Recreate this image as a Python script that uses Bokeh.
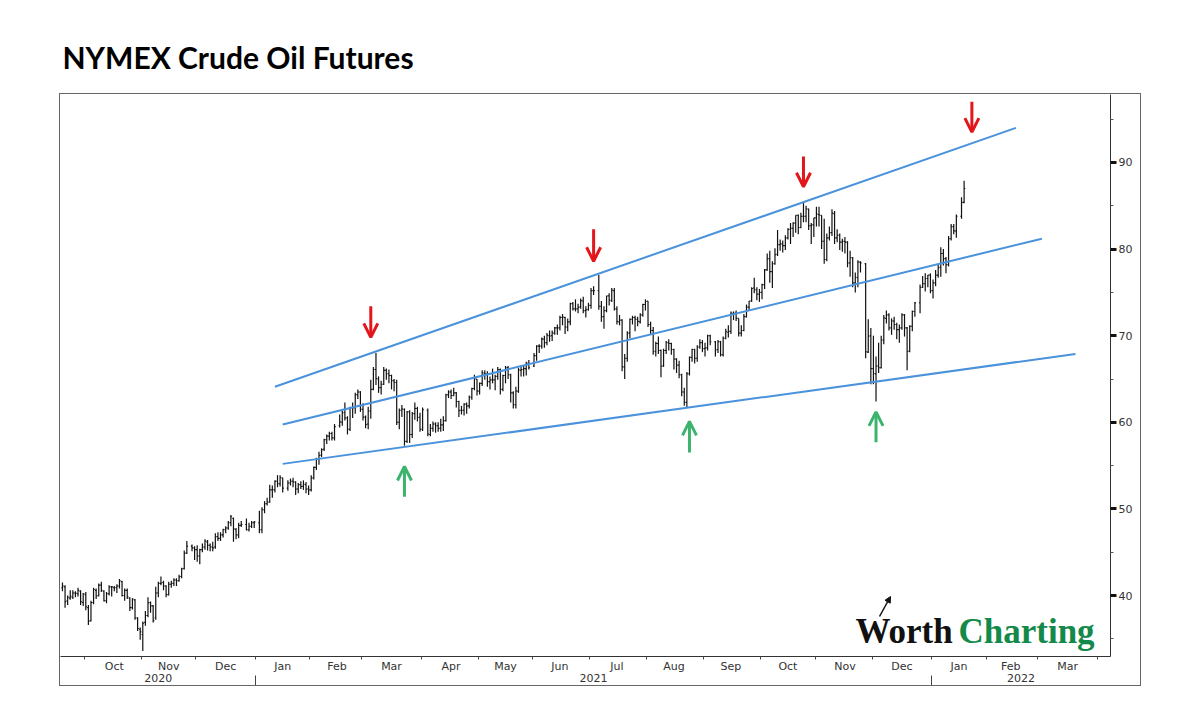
import numpy as np
import pandas as pd
from bokeh.plotting import figure
from bokeh.layouts import column, row
from bokeh.models import (Range1d, LinearAxis, FixedTicker, Arrow, Spacer,
                          OpenHead, NormalHead, Label, ColumnDataSource)
from bokeh.embed import file_html
from bokeh.resources import INLINE

# ---------------- data ----------------
START = "2020-09-18"
END = "2022-01-19"
holidays = ["2020-11-26", "2020-12-25", "2021-01-01", "2021-01-18", "2021-02-15",
            "2021-04-02", "2021-05-31", "2021-07-05", "2021-09-06", "2021-11-25",
            "2021-12-24", "2022-01-17"]

opens = [
    40.9, 41.0, 39.4, 39.7, 39.8, 40.3, 40.2, 40.5, 39.2,
    40.1, 38.6, 37.1, 39.2, 40.6, 40.0, 41.2, 40.5, 39.4, 40.2, 41.0, 40.9, 40.9, 41.1, 41.6, 40.0, 40.6, 39.7, 38.6, 39.5, 37.4, 36.1,
    35.5, 36.9, 37.7, 39.2, 38.8, 37.4, 40.3, 41.4, 41.5, 41.1, 40.1, 41.3, 41.4, 41.8, 41.7, 42.2, 43.1, 44.9, 45.7, 45.5,
    45.3, 44.6, 45.3, 45.6, 46.2, 45.8, 45.6, 45.6, 46.8, 46.6, 47.0, 47.6, 47.8, 48.4, 48.9, 47.6, 47.0, 48.1, 48.2, 47.6, 48.0, 48.4,
    48.4, 47.6, 49.9, 50.6, 50.8, 52.2, 52.2, 53.2, 52.9, 53.6, 52.4, 53.0, 53.2, 53.1, 52.3, 52.8, 52.6, 52.8, 52.3,
    52.2, 53.6, 54.8, 55.7, 56.2, 56.9, 58.0, 58.4, 58.7, 58.2, 59.6, 60.0, 61.1, 60.5, 59.2, 61.7, 61.7, 63.2, 63.5,
    61.5, 60.6, 59.8, 61.3, 63.8, 66.1, 65.0, 64.0, 64.4, 66.0, 65.6, 65.4, 64.8, 64.6, 60.0, 61.4, 61.5, 57.8, 61.2, 58.6, 61.0, 61.6, 60.6,
    59.2, 61.4, 58.6, 59.3, 59.8, 59.6, 59.3, 59.7, 60.2, 63.2, 63.5, 63.1, 63.4, 62.4, 61.4, 61.4, 62.1, 61.9, 62.9, 63.9, 65.0,
    63.6, 64.5, 65.7, 65.6, 64.7, 64.9, 64.9, 65.3, 66.1, 63.8, 65.4, 66.3, 65.5, 63.4, 62.0, 63.6, 66.0, 66.1, 66.2, 66.8,
    66.5, 67.7, 68.8, 68.8, 69.6, 69.2, 70.0, 70.0, 70.3, 70.9, 70.9, 72.1, 72.1, 71.0, 71.6, 73.7, 73.1, 73.1, 73.3, 74.0, 72.9, 73.0,
    73.5, 75.2, 75.2, 73.4, 72.2, 72.9, 74.6, 74.1, 75.2, 73.1, 71.6, 71.8, 66.4, 67.4, 70.3, 71.9, 72.1, 71.9, 71.6, 72.4, 73.6,
    74.0, 71.3, 70.6, 68.2, 69.1, 68.3, 66.5, 68.3, 69.2, 69.1, 68.4, 67.3, 66.6, 65.5, 63.5, 62.3, 65.6, 67.5, 68.4, 67.4, 68.7, 69.2,
    68.5, 68.6, 70.0, 69.3, 68.4, 69.3, 67.8, 69.7, 70.4, 70.5, 72.6, 72.6, 72.0, 70.3, 70.6, 72.2, 73.3, 74.0, 75.5, 75.3, 74.8,
    75.0, 75.9, 77.6, 78.9, 77.4, 78.3, 79.4, 80.5, 80.6, 80.4, 81.3, 82.3, 82.4, 83.0, 83.9, 82.5, 83.8, 83.8, 84.6, 82.7, 82.8,
    83.6, 84.0, 83.9, 80.9, 78.8, 81.3, 81.9, 84.1, 81.3, 81.6, 80.8, 80.9, 80.8, 78.4, 79.0, 76.1, 76.7, 78.5, 78.3, 68.1, 70.0,
    66.2, 65.6, 66.5, 66.3, 69.5, 72.0, 72.4, 70.9, 71.7, 71.3, 70.7, 70.9, 72.4, 70.9, 68.2, 71.1, 72.8, 73.8, 75.6, 76.0, 76.6, 77.0,
    75.2, 76.1, 77.0, 77.9, 79.5, 78.9, 78.2, 81.2, 82.6, 82.1, 83.8, 85.4,
]
highs = [
    41.5, 41.2, 40.0, 40.6, 40.6, 40.5, 40.9, 40.6, 40.3,
    40.4, 38.9, 39.4, 40.9, 40.8, 41.4, 41.6, 40.6, 40.4, 41.2, 41.1, 41.1, 41.3, 41.9, 41.7, 40.8, 40.8, 39.8, 39.7, 39.6, 37.5, 36.3,
    37.0, 38.2, 39.8, 39.3, 38.9, 41.0, 41.6, 42.2, 41.7, 41.2, 41.6, 41.7, 42.0, 42.0, 42.4, 43.2, 45.2, 46.3, 45.9, 45.7,
    45.8, 45.4, 46.0, 46.5, 46.4, 46.0, 46.2, 47.2, 47.3, 47.3, 47.7, 48.0, 48.6, 49.3, 49.0, 47.8, 48.4, 48.6, 48.9, 48.4, 48.6, 48.6,
    49.8, 50.2, 50.9, 51.3, 52.8, 52.7, 53.3, 53.9, 53.9, 53.6, 53.3, 53.5, 53.6, 53.2, 53.0, 53.2, 53.3, 53.1, 52.7,
    53.9, 54.9, 55.9, 56.6, 57.0, 58.1, 58.6, 58.9, 58.9, 59.8, 60.9, 61.3, 62.3, 60.7, 61.8, 62.3, 63.4, 63.8, 63.6,
    62.2, 60.8, 61.8, 64.9, 66.4, 68.0, 65.3, 64.8, 66.4, 66.2, 66.1, 65.5, 65.0, 64.9, 61.6, 62.0, 61.6, 61.3, 61.4, 61.2, 62.3, 61.8, 61.1,
    61.7, 61.6, 59.8, 60.1, 60.0, 60.0, 60.4, 60.7, 63.3, 63.7, 63.8, 64.0, 63.5, 62.5, 61.9, 62.2, 62.3, 63.1, 64.0, 65.5, 65.0,
    64.6, 66.0, 66.0, 65.9, 65.3, 66.2, 65.5, 66.4, 66.2, 65.5, 66.5, 66.5, 65.6, 63.6, 64.1, 66.3, 66.6, 66.5, 67.0, 67.2,
    68.0, 68.9, 69.0, 69.8, 70.0, 70.3, 70.6, 70.6, 71.0, 71.3, 72.3, 72.5, 72.2, 72.0, 73.8, 73.9, 74.2, 73.7, 74.3, 74.5, 73.4, 73.8,
    75.5, 75.7, 77.0, 74.0, 73.4, 74.6, 74.9, 75.5, 75.5, 73.4, 72.4, 71.9, 67.9, 70.5, 72.0, 72.3, 72.3, 72.2, 72.6, 73.7, 74.2,
    74.0, 71.6, 71.0, 69.3, 69.9, 68.4, 68.5, 69.4, 69.6, 69.2, 68.5, 67.4, 67.1, 65.6, 64.0, 65.8, 67.6, 68.5, 68.5, 68.9, 69.6, 69.5,
    69.2, 70.1, 70.1, 69.4, 69.5, 69.4, 69.9, 70.8, 71.2, 72.8, 72.8, 72.9, 72.0, 71.2, 72.5, 73.6, 74.0, 75.6, 76.7, 75.6, 75.4,
    76.0, 77.7, 79.5, 79.8, 78.6, 80.1, 82.2, 81.1, 81.0, 81.6, 82.4, 83.0, 83.1, 83.9, 84.0, 84.2, 85.4, 85.0, 84.7, 83.0, 83.6,
    84.9, 84.9, 83.9, 83.5, 81.8, 82.6, 84.6, 84.4, 82.3, 81.8, 81.2, 81.4, 80.9, 79.8, 79.1, 77.3, 78.7, 78.6, 78.4, 71.9, 70.9,
    70.0, 67.6, 69.2, 70.0, 72.4, 72.9, 72.6, 72.0, 72.2, 71.5, 71.3, 72.6, 72.5, 71.0, 71.2, 72.9, 73.9, 75.9, 76.9, 77.2, 77.0, 77.2,
    76.5, 77.6, 78.3, 80.2, 80.0, 79.1, 81.5, 82.9, 82.9, 84.0, 86.0, 87.9,
]
lows = [
    40.5, 38.6, 38.9, 39.5, 39.6, 39.8, 39.9, 38.9, 38.8,
    38.3, 36.6, 37.0, 39.0, 39.6, 39.9, 40.4, 39.3, 39.1, 40.0, 39.9, 40.5, 40.3, 40.8, 39.9, 39.4, 39.6, 38.2, 38.4, 37.2, 35.9, 34.9,
    33.6, 36.5, 37.5, 38.0, 36.9, 37.2, 39.8, 41.2, 40.6, 39.8, 40.0, 40.9, 41.1, 41.1, 41.6, 42.0, 43.0, 44.8, 45.1, 44.1,
    43.9, 43.6, 45.0, 45.3, 45.2, 45.1, 45.1, 45.4, 46.3, 46.3, 46.7, 47.2, 47.6, 48.0, 46.2, 46.5, 46.6, 47.9, 47.5, 47.4, 47.8, 47.8,
    47.2, 47.2, 49.5, 50.4, 50.7, 51.3, 51.9, 52.5, 52.6, 51.9, 52.1, 52.7, 52.5, 51.6, 51.8, 52.3, 52.2, 51.8, 51.6,
    52.0, 53.4, 54.5, 55.1, 56.0, 56.7, 57.5, 57.9, 57.9, 57.9, 59.4, 59.6, 60.2, 58.6, 59.0, 60.5, 61.0, 62.7, 61.2,
    60.2, 59.3, 59.2, 60.4, 63.7, 64.3, 63.4, 63.2, 64.3, 64.9, 64.5, 63.8, 63.6, 59.7, 59.2, 60.6, 57.3, 57.6, 57.6, 58.2, 60.3, 60.1, 58.9,
    59.0, 58.4, 58.4, 58.9, 58.8, 58.9, 58.9, 59.0, 60.1, 62.8, 62.7, 63.0, 61.7, 60.6, 60.9, 60.8, 61.0, 61.6, 62.6, 63.7, 63.1,
    63.2, 64.2, 64.9, 64.1, 63.8, 64.5, 63.7, 64.9, 63.2, 63.6, 64.5, 65.0, 62.3, 61.6, 61.6, 63.4, 65.3, 65.3, 65.4, 66.1,
    66.4, 67.1, 68.0, 68.5, 68.6, 68.9, 69.3, 69.4, 70.1, 70.1, 70.6, 71.2, 70.2, 70.5, 71.2, 72.9, 72.8, 72.6, 73.1, 72.6, 72.1, 72.9,
    73.1, 74.7, 73.0, 71.6, 70.8, 72.7, 73.5, 73.9, 72.9, 71.3, 71.2, 65.9, 65.0, 67.0, 69.7, 71.3, 70.5, 71.1, 71.4, 72.2, 72.9,
    71.0, 70.1, 67.8, 67.6, 67.9, 65.2, 66.4, 67.9, 68.3, 67.8, 66.1, 65.7, 65.1, 63.0, 61.9, 61.7, 65.4, 67.0, 66.8, 67.0, 68.5, 68.1,
    67.6, 68.3, 68.9, 67.6, 68.0, 67.6, 67.6, 69.6, 69.8, 70.2, 71.8, 71.7, 69.9, 69.9, 70.5, 72.1, 72.9, 73.9, 74.9, 74.1, 73.9,
    74.2, 75.4, 77.5, 76.1, 75.5, 78.2, 79.2, 79.8, 79.6, 79.9, 81.1, 80.6, 81.4, 81.9, 81.7, 82.4, 83.1, 83.1, 82.2, 80.6, 81.4,
    82.6, 82.6, 80.0, 78.3, 78.6, 81.0, 81.5, 80.6, 80.8, 79.9, 79.7, 79.5, 77.9, 76.8, 75.6, 75.0, 75.6, 77.3, 67.4, 68.0, 64.4,
    64.4, 62.4, 65.7, 66.2, 69.0, 71.4, 70.6, 70.1, 70.7, 69.6, 69.2, 70.7, 69.9, 66.0, 68.1, 70.5, 72.2, 72.6, 75.5, 75.1, 75.6, 74.9,
    74.3, 75.7, 76.7, 76.8, 78.1, 77.2, 78.0, 81.0, 81.7, 81.3, 83.5, 85.3,
]
closes = [
    41.1, 39.3, 39.8, 39.9, 40.3, 40.25, 40.6, 39.3, 40.2,
    38.7, 37.05, 39.2, 40.7, 39.95, 41.2, 40.6, 39.4, 40.2, 41.0, 41.0, 40.9, 41.1, 41.7, 40.0, 40.6, 39.85, 38.6, 39.6, 37.4, 36.2, 35.8,
    36.8, 37.7, 39.15, 38.8, 37.1, 40.3, 41.4, 41.45, 41.1, 40.1, 41.3, 41.4, 41.8, 41.7, 42.15, 43.1, 44.9, 45.7, 45.5, 45.3,
    44.55, 45.3, 45.6, 46.3, 45.8, 45.6, 45.5, 46.8, 46.6, 47.0, 47.6, 47.8, 48.4, 49.1, 47.7, 47.0, 48.1, 48.2, 47.6, 48.0, 48.4, 48.5,
    47.6, 49.9, 50.6, 50.8, 52.2, 52.25, 53.2, 52.9, 53.6, 52.4, 53.0, 53.2, 53.1, 52.3, 52.8, 52.6, 52.85, 52.3, 52.2,
    53.55, 54.8, 55.7, 56.2, 56.85, 58.0, 58.4, 58.7, 58.2, 59.5, 60.05, 61.1, 60.5, 59.2, 61.7, 61.7, 63.2, 63.5, 61.5,
    60.6, 59.75, 61.3, 63.8, 66.1, 65.05, 64.0, 64.4, 66.0, 65.6, 65.4, 64.8, 64.6, 60.0, 61.4, 61.55, 57.8, 61.2, 58.6, 61.0, 61.6, 60.55, 59.2,
    61.45, 58.65, 59.3, 59.8, 59.6, 59.3, 59.7, 60.2, 63.15, 63.5, 63.1, 63.4, 62.4, 61.35, 61.4, 62.1, 61.9, 62.9, 63.9, 65.0, 63.6,
    64.5, 65.7, 65.6, 64.7, 64.9, 64.9, 65.3, 66.1, 63.8, 65.4, 66.3, 65.5, 63.4, 62.05, 63.6, 66.05, 66.1, 66.2, 66.85, 66.3,
    67.7, 68.8, 68.8, 69.6, 69.2, 70.05, 69.96, 70.3, 70.9, 70.9, 72.1, 72.15, 71.0, 71.6, 73.7, 73.1, 73.1, 73.3, 74.05, 72.9, 73.0, 73.5,
    75.2, 75.2, 73.4, 72.2, 72.9, 74.6, 74.1, 75.25, 73.1, 71.65, 71.8, 66.4, 67.4, 70.3, 71.9, 72.1, 71.9, 71.65, 72.4, 73.6, 73.95,
    71.3, 70.6, 68.15, 69.1, 68.3, 66.5, 68.3, 69.25, 69.1, 68.4, 67.3, 66.6, 65.5, 63.5, 62.3, 65.6, 67.5, 68.4, 67.4, 68.7, 69.2, 68.5,
    68.6, 70.0, 69.3, 68.35, 69.3, 67.8, 69.7, 70.45, 70.5, 72.6, 72.6, 72.0, 70.3, 70.6, 72.2, 73.3, 74.0, 75.45, 75.3, 74.8, 75.0,
    75.9, 77.6, 78.9, 77.4, 78.3, 79.35, 80.5, 80.6, 80.4, 81.3, 82.3, 82.4, 83.0, 83.9, 82.5, 83.8, 83.8, 84.65, 82.7, 82.8, 83.6,
    84.05, 83.9, 80.9, 78.8, 81.3, 81.9, 84.15, 81.3, 81.6, 80.8, 80.9, 80.8, 78.4, 79.0, 76.1, 76.75, 78.5, 78.4, 68.15, 69.95, 66.2,
    65.6, 66.5, 66.3, 69.5, 72.05, 72.4, 70.9, 71.7, 71.3, 70.7, 70.9, 72.4, 70.9, 68.2, 71.1, 72.8, 73.8, 75.6, 76.0, 76.6, 77.0, 75.2,
    76.1, 77.0, 77.85, 79.5, 78.9, 78.2, 81.2, 82.6, 82.1, 83.8, 85.4, 87.0,
]

# trend lines (start date, start price, end date, end price)
trend_start_dates = ["2021-01-12", "2021-01-15", "2021-01-15"]
trend_start_prices = [64.1, 59.75, 55.2]
trend_end_dates = ["2022-02-16", "2022-03-02", "2022-03-21"]
trend_end_prices = [94.0, 81.2, 67.9]

# red (down) and green (up) arrows
sell_dates = ["2021-03-04", "2021-07-02", "2021-10-25", "2022-01-24"]
sell_tail = [73.4, 82.3, 90.7, 97.0]
sell_tip = [69.8, 78.6, 87.2, 93.5]
buy_dates = ["2021-03-23", "2021-08-24", "2021-12-02"]
buy_tail = [51.4, 56.5, 57.7]
buy_tip = [54.9, 60.1, 61.2]

price_ticks = [40, 50, 60, 70, 80, 90]
price_minor_ticks = [35, 45, 55, 65, 75, 85, 95]
month_range = ("2020-10-01", "2022-04-01")
years = ["2020", "2021", "2022"]

# ---------------- helpers ----------------
def xi(d):
    return float(np.busday_count(START, pd.Timestamp(d).strftime("%Y-%m-%d")))

days = [d for d in pd.bdate_range(START, END) if d.strftime("%Y-%m-%d") not in holidays]
assert len(days) == len(closes) == len(opens) == len(highs) == len(lows)
x = np.array([xi(d) for d in days])

X0, X1 = -0.76, 404.5
Y0, Y1 = 32.96, 97.85

# ---------------- title strip ----------------
head = figure(width=1190, height=94, x_range=Range1d(0, 1), y_range=Range1d(0, 1),
              x_axis_location=None, y_axis_location=None,
              output_backend="svg", toolbar_location=None,
              min_border_left=60, min_border_right=0, min_border_top=89, min_border_bottom=0,
              outline_line_color=None, background_fill_color="white", border_fill_color="white")
head.grid.visible = False
head.title.text = "NYMEX Crude Oil Futures"
head.title.text_font = "Lato"
head.title.text_font_style = "bold"
head.title.text_font_size = "30px"
head.title.text_color = "#000000"
head.title.align = "left"
head.title.offset = 2
head.title.standoff = 30

# ---------------- main chart ----------------
p = figure(width=1080, height=591, x_range=Range1d(X0, X1), y_range=Range1d(Y0, Y1),
           title=None, y_axis_location="right", output_backend="svg", toolbar_location=None,
           min_border_left=0, min_border_right=30, min_border_top=0, min_border_bottom=29,
           outline_line_color=None, background_fill_color="white", border_fill_color="white")
p.styles = {"outline": "1.5px solid #666666", "outline-offset": "0px"}
p.xgrid.visible = False
p.ygrid.visible = False

# OHLC bars
src = ColumnDataSource(dict(x=x, xl=x - 0.45, xr=x + 0.45, o=opens, h=highs, l=lows, c=closes))
bar_color = "#111111"
p.segment(x0="x", y0="l", x1="x", y1="h", source=src, line_color=bar_color, line_width=1.2)
p.segment(x0="xl", y0="o", x1="x", y1="o", source=src, line_color=bar_color, line_width=1.1)
p.segment(x0="x", y0="c", x1="xr", y1="c", source=src, line_color=bar_color, line_width=1.1)

# trend lines
p.segment(x0=[xi(d) for d in trend_start_dates], y0=trend_start_prices,
          x1=[xi(d) for d in trend_end_dates], y1=trend_end_prices,
          line_color="#4a92dc", line_width=2)

# arrows
RED = "#e3161b"
GREEN = "#3cb46e"
for d, t0, t1 in zip(sell_dates, sell_tail, sell_tip):
    p.add_layout(Arrow(end=OpenHead(size=14, line_color=RED, line_width=3),
                       x_start=xi(d), y_start=t0, x_end=xi(d), y_end=t1,
                       line_color=RED, line_width=3))
for d, t0, t1 in zip(buy_dates, buy_tail, buy_tip):
    p.add_layout(Arrow(end=OpenHead(size=14, line_color=GREEN, line_width=3),
                       x_start=xi(d), y_start=t0, x_end=xi(d), y_end=t1,
                       line_color=GREEN, line_width=3))

# right price axis
ya = p.yaxis[0]
ya.ticker = FixedTicker(ticks=price_ticks, minor_ticks=price_minor_ticks)
ya.axis_line_color = "#333333"
ya.major_tick_in = 0
ya.major_tick_out = 6
ya.major_tick_line_width = 3
ya.major_tick_line_color = "#111111"
ya.minor_tick_in = 0
ya.minor_tick_out = 3
ya.minor_tick_line_color = "#555555"
ya.major_label_standoff = 2
ya.major_label_text_font = "DejaVu Sans"
ya.major_label_text_font_size = "11px"
ya.major_label_text_color = "#333333"

# month axis
mstarts = pd.date_range(month_range[0], month_range[1], freq="MS")
bounds = [xi(np.busday_offset(m.strftime("%Y-%m-%d"), 0, roll="forward")) - 0.5 for m in mstarts]
mids = [int(round((a + b) / 2)) for a, b in zip(bounds[:-1], bounds[1:])]
names = [m.strftime("%b") for m in mstarts[:-1]]
xa = p.xaxis[0]
xa.ticker = FixedTicker(ticks=mids, minor_ticks=bounds)
xa.major_label_overrides = {k: v for k, v in zip(mids, names)}
xa.axis_line_color = "#333333"
xa.major_tick_in = 0
xa.major_tick_out = 0
xa.minor_tick_in = 0
xa.minor_tick_out = 3
xa.minor_tick_line_color = "#444444"
xa.major_label_standoff = 0
xa.major_label_text_font = "DejaVu Sans"
xa.major_label_text_font_size = "11px"
xa.major_label_text_color = "#333333"

# year axis
ybounds = [xi(np.busday_offset(f"{y}-01-01", 0, roll="forward")) - 0.5 for y in years[1:]]
yedges = [X0] + ybounds + [X1]
ymids = [int(round((a + b) / 2)) for a, b in zip(yedges[:-1], yedges[1:])]
yax = LinearAxis(ticker=FixedTicker(ticks=ymids, minor_ticks=ybounds))
yax.major_label_overrides = {k: v for k, v in zip(ymids, years)}
yax.axis_line_color = None
yax.major_tick_in = 0
yax.major_tick_out = 0
yax.minor_tick_in = 0
yax.minor_tick_out = 16
yax.minor_tick_line_color = "#444444"
yax.major_label_standoff = -18
yax.major_label_text_font = "DejaVu Sans"
yax.major_label_text_font_size = "11px"
yax.major_label_text_color = "#333333"
p.add_layout(yax, "below")

# logo
p.add_layout(Label(x=795, y=25, x_units="screen", y_units="screen", text="Worth",
                   text_font="Liberation Serif", text_font_style="bold", text_font_size="35px",
                   text_color="#111111", text_baseline="alphabetic"))
p.add_layout(Label(x=898, y=25, x_units="screen", y_units="screen", text="Charting",
                   text_font="Liberation Serif", text_font_style="bold", text_font_size="35px",
                   text_color="#13894a", text_baseline="alphabetic"))
p.add_layout(Arrow(x_start=819, y_start=40, x_end=830, y_end=60,
                   start_units="screen", end_units="screen",
                   line_color="#111111", line_width=1.5,
                   end=NormalHead(size=6, fill_color="#111111", line_color="#111111")))

layout = column(head, row(Spacer(width=60, height=591), p))
open("out.html", "w").write(file_html(layout, INLINE))
